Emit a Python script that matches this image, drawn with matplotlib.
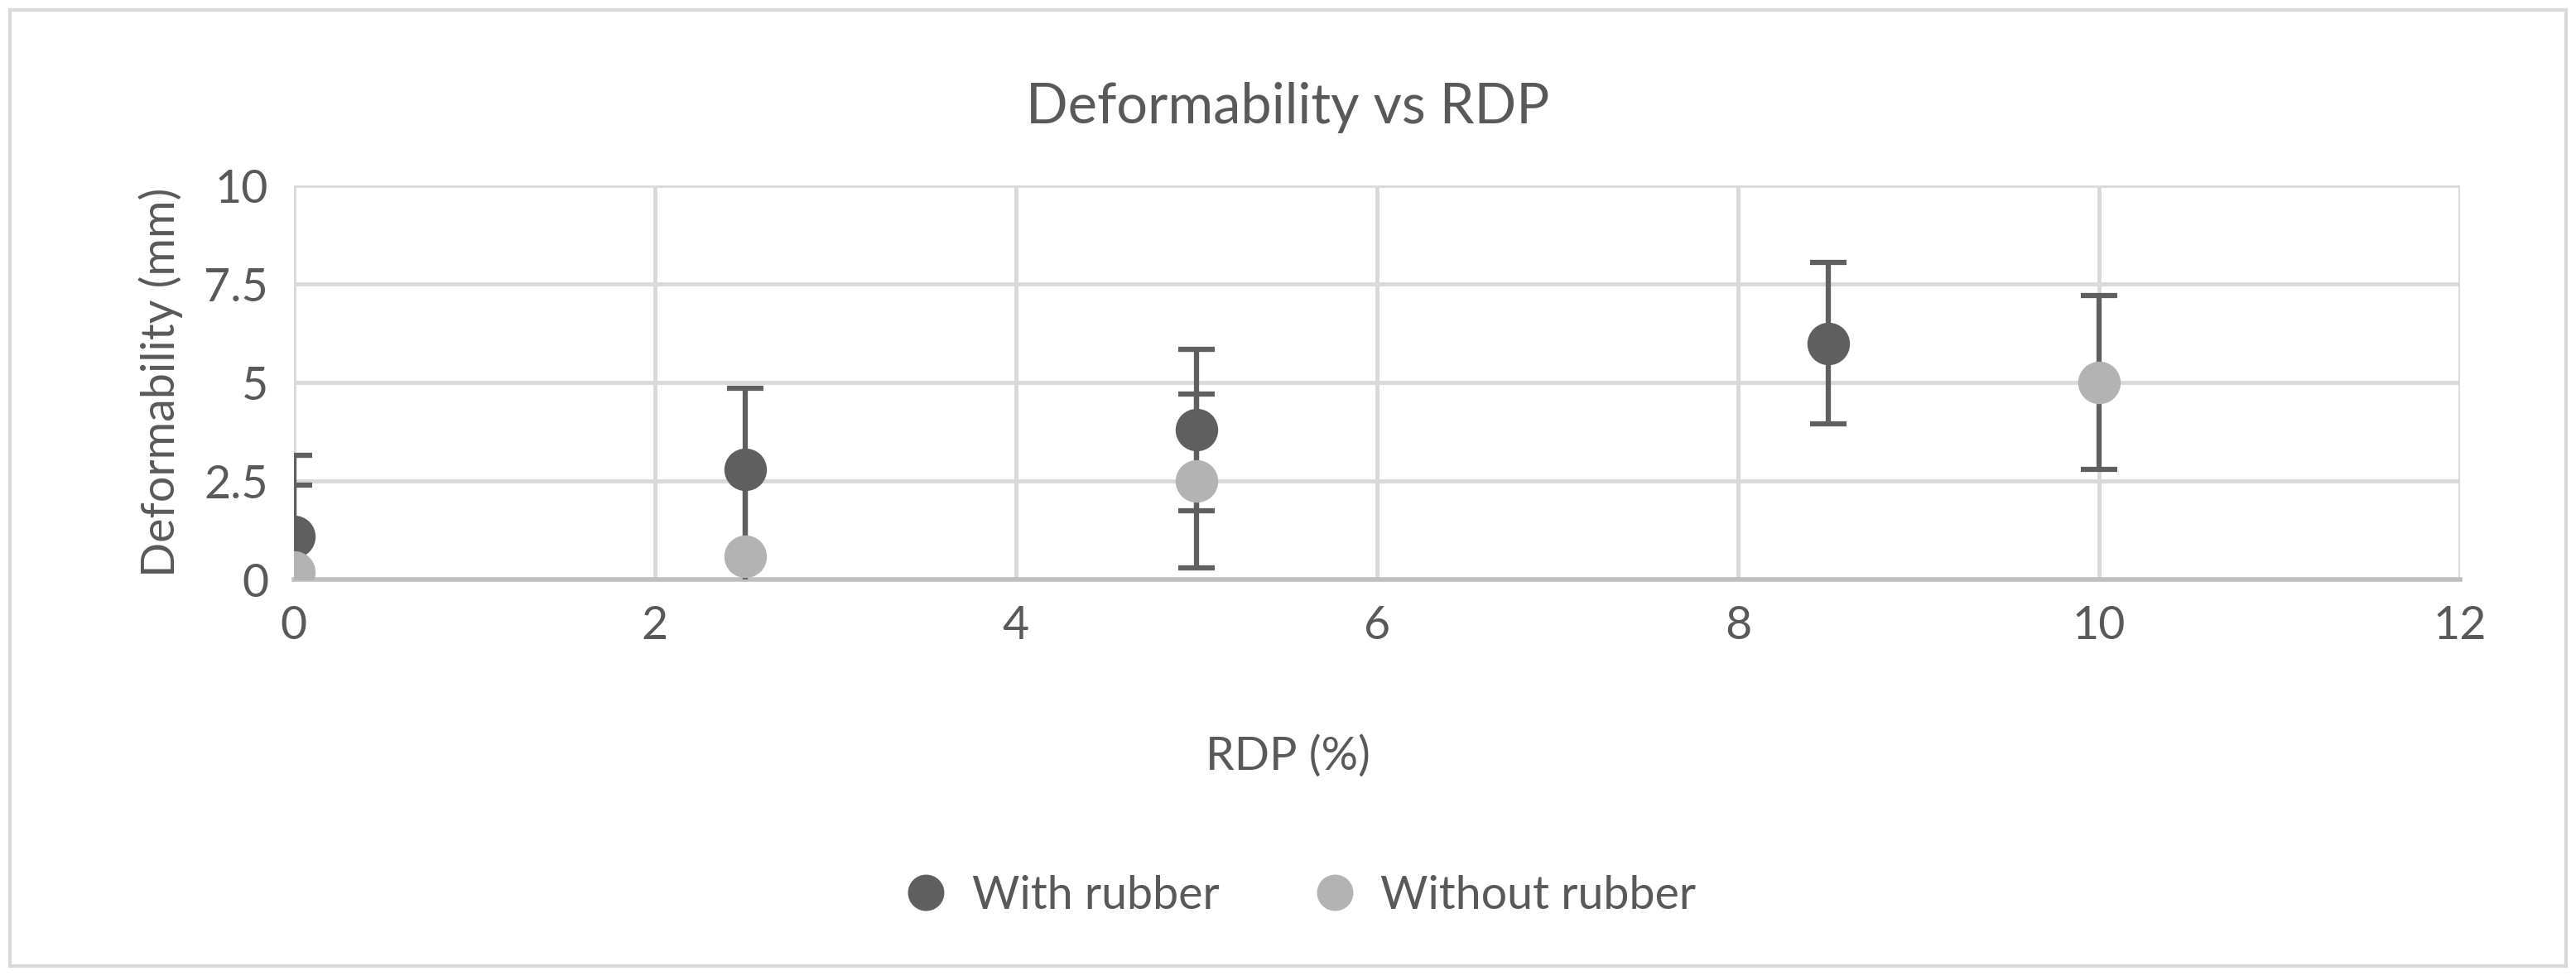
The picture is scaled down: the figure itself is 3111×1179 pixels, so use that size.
import numpy as np
import matplotlib.pyplot as plt
from matplotlib.patches import Rectangle

# data
x_with = [0, 2.5, 5, 8.5]
y_with = [1.1, 2.8, 3.8, 6.0]
err_with = [2.05, 2.05, 2.05, 2.05]

x_without = [0, 2.5, 5, 10]
y_without = [0.2, 0.6, 2.5, 5.0]
err_without = [2.2, 2.2, 2.2, 2.2]

xticks = [0, 2, 4, 6, 8, 10, 12]
yticks = [0, 2.5, 5, 7.5, 10]
ytick_labels = ['0', '2.5', '5', '7.5', '10']

plt.rcParams['font.family'] = ['Lato', 'DejaVu Sans']
txt = '#595959'
dark = '#5f5f5f'
light = '#b3b3b3'
fs = 40

fig = plt.figure(figsize=(31.11, 11.79), dpi=100)
fig.patches.append(Rectangle((0.004, 0.01), 0.992, 0.98, transform=fig.transFigure,
                             fill=False, edgecolor='#d9d9d9', lw=3))
ax = fig.add_axes([0.114, 0.406, 0.841, 0.404])

for xs, ys, es, c, lab in [(x_with, y_with, err_with, dark, 'With rubber'),
                           (x_without, y_without, err_without, light, 'Without rubber')]:
    ax.errorbar(xs, ys, yerr=es, fmt='none', ecolor=dark, elinewidth=4.5,
                capsize=16, capthick=4.5, zorder=3)
    ax.plot(xs, ys, 'o', color=c, markersize=36, label=lab, zorder=4, linestyle='none')

ax.set_xlim(0, 12)
ax.set_ylim(0, 10)
ax.set_xticks(xticks)
ax.set_yticks(yticks)
ax.set_yticklabels(ytick_labels)
ax.grid(True, color='#d9d9d9', lw=3.5, zorder=0)
ax.set_axisbelow(True)
for s in ['top', 'right', 'left']:
    ax.spines[s].set_visible(False)
ax.spines['bottom'].set_color('#bfbfbf')
ax.spines['bottom'].set_linewidth(4)
ax.tick_params(length=0, labelsize=fs, colors=txt, pad=22)

fig.text(0.5, 0.89, 'Deformability vs RDP', ha='center', va='center', fontsize=48, color=txt)
fig.text(0.5, 0.225, 'RDP (%)', ha='center', va='center', fontsize=fs, color=txt)
ax.set_ylabel('Deformability (mm)', fontsize=fs, color=txt, labelpad=18)

fig.legend(loc='center', bbox_to_anchor=(0.5, 0.082), ncol=2, frameon=False,
           fontsize=fs, labelcolor=txt, handletextpad=0.0, columnspacing=1.5,
           markerscale=0.85)

fig.savefig('out.png', dpi=100)
